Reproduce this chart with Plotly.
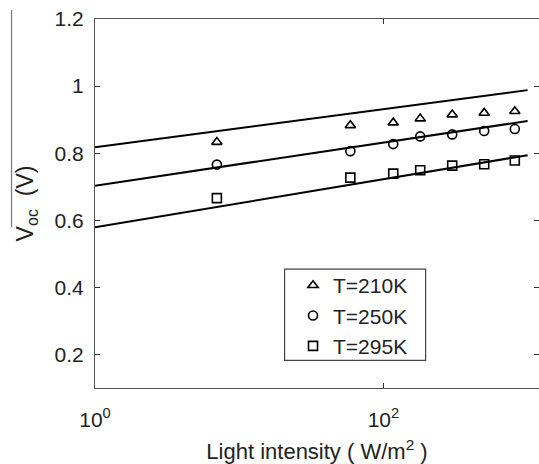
import plotly.graph_objects as go

intensity = [7, 59, 117, 180, 300, 500, 815]
voc_210 = [0.833, 0.883, 0.891, 0.903, 0.915, 0.920, 0.925]
voc_250 = [0.766, 0.806, 0.827, 0.850, 0.856, 0.866, 0.872]
voc_295 = [0.666, 0.727, 0.739, 0.749, 0.763, 0.767, 0.778]

fit_x = [1, 1000]
fit_210 = [0.818, 0.988]
fit_250 = [0.703, 0.896]
fit_295 = [0.579, 0.794]

labels = ["T=210K", "T=250K", "T=295K"]
symbols = ["triangle-up-open", "circle-open", "square-open"]

FONT = "Liberation Sans, Arial, sans-serif"

fig = go.Figure()
for fy in [fit_210, fit_250, fit_295]:
    fig.add_trace(go.Scatter(x=fit_x, y=fy, mode="lines",
                             line=dict(color="black", width=2),
                             showlegend=False, hoverinfo="skip"))
for ys, lab, sym in zip([voc_210, voc_250, voc_295], labels, symbols):
    fig.add_trace(go.Scatter(x=intensity, y=ys, mode="markers", name=lab,
                             marker=dict(symbol=sym, size=9, color="black",
                                         line=dict(color="black", width=1.6))))

# invisible trace to activate mirror axes
fig.add_trace(go.Scatter(x=[1], y=[0.5], xaxis="x2", yaxis="y2", mode="markers",
                         marker=dict(opacity=0), showlegend=False, hoverinfo="skip"))

xr = [0, 3.079]
yr = [0.1, 1.2]
fig.update_layout(
    width=539, height=464,
    margin=dict(l=95, r=0, t=19, b=76),
    paper_bgcolor="white", plot_bgcolor="white",
    font=dict(family=FONT, size=21, color="#222"),
    xaxis=dict(type="log", range=xr, tickvals=[1, 100],
               ticktext=["10<sup>0</sup>", "10<sup>2</sup>"],
               ticks="inside", ticklen=5, tickcolor="#333",
               showline=True, linecolor="#555", linewidth=1.2,
               showgrid=False, zeroline=False,
               ticklabelstandoff=13,
               title=dict(text="Light intensity ( W/m<sup>2</sup> )",
                          font=dict(size=22), standoff=14)),
    yaxis=dict(range=yr, tickvals=[0.2, 0.4, 0.6, 0.8, 1.0, 1.2],
               ticktext=["0.2", "0.4", "0.6", "0.8", "1", "1.2"],
               ticks="inside", ticklen=5, tickcolor="#333",
               showline=True, linecolor="#555", linewidth=1.2,
               showgrid=False, zeroline=False,
               ticklabelstandoff=6,
               title=dict(text="V<sub>oc</sub>  (V)", font=dict(size=23), standoff=14)),
    xaxis2=dict(type="log", range=xr, overlaying="x", side="top",
                tickvals=[1, 100], showticklabels=False,
                ticks="inside", ticklen=5, tickcolor="#333",
                showline=True, linecolor="#555", linewidth=1.2,
                showgrid=False, zeroline=False),
    yaxis2=dict(range=yr, overlaying="y", side="right",
                tickvals=[0.2, 0.4, 0.6, 0.8, 1.0, 1.2], showticklabels=False,
                ticks="inside", ticklen=5, tickcolor="#333",
                showline=False, showgrid=False, zeroline=False),
    legend=dict(x=0.446, y=0.333, xanchor="left", yanchor="top",
                borderwidth=0, bgcolor="rgba(0,0,0,0)",
                font=dict(size=21), tracegroupgap=0, itemwidth=30),
    shapes=[
        dict(type="line", xref="paper", yref="paper",
             x0=-0.188, x1=-0.188, y0=1.024, y1=0.436,
             line=dict(color="#777", width=1.2)),
        dict(type="rect", xref="paper", yref="paper",
             x0=0.427, x1=0.7446, y0=0.0751, y1=0.322,
             line=dict(color="#444", width=1.2)),
    ],
)

fig.write_html("out.html")
